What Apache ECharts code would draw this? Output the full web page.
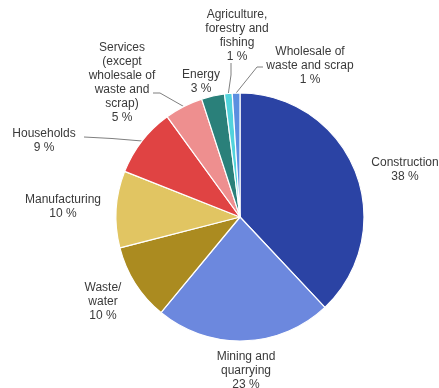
<!DOCTYPE html>
<html>
<head>
<meta charset="utf-8">
<script src="https://cdn.jsdelivr.net/npm/echarts@6/dist/echarts.min.js"></script>
<style>
  html, body { margin: 0; padding: 0; background: #ffffff; }
  #chart { width: 439px; height: 388px; }
</style>
</head>
<body>
<div id="chart"></div>
<script>
// Sectors, clockwise from twelve o'clock
var categories = [
  'Construction',
  'Mining and\nquarrying',
  'Waste/\nwater',
  'Manufacturing',
  'Households',
  'Services\n(except\nwholesale of\nwaste and\nscrap)',
  'Energy',
  'Agriculture,\nforestry and\nfishing',
  'Wholesale of\nwaste and scrap'
];
// Share of total, %
var shares = [38, 23, 10, 10, 9, 5, 3, 1, 1];
var colors = ['#2b43a4', '#6c88de', '#ab8b20', '#e1c562', '#e04343', '#ee8f8f', '#2a807a', '#52d3dc', '#5b8fe0'];

// Label centres and leader lines (null = no leader line)
var labelCentres = [
  [405, 170], [246, 371], [103, 302], [63, 207], [44, 141],
  [122, 83], [201, 82], [237, 36], [310, 66]
];
var leaderEnds = [
  null, null, null, null,
  [[112, 138.5], [84, 137]],
  [[160, 93], [153, 93]],
  null,
  [[231, 75], [231, 63]],
  [[257, 67], [263, 67]]
];

var chart = echarts.init(document.getElementById('chart'), null, { renderer: 'canvas' });

var data = categories.map(function (name, i) {
  return {
    name: name,
    value: shares[i],
    itemStyle: { color: colors[i] },
    labelLine: { show: !!leaderEnds[i] }
  };
});

chart.setOption({
  animation: false,
  series: [{
    type: 'pie',
    center: [240, 217],
    radius: [0, 124],
    startAngle: 90,
    clockwise: true,
    avoidLabelOverlap: false,
    itemStyle: { borderColor: '#ffffff', borderWidth: 1.2 },
    label: {
      show: true,
      position: 'outside',
      formatter: function (p) { return p.name + '\n' + p.value + ' %'; },
      fontFamily: 'Liberation Sans, Arial, sans-serif',
      fontSize: 12,
      lineHeight: 14,
      color: '#3a3a3a',
      align: 'center'
    },
    labelLine: {
      show: true,
      length: 10,
      length2: 10,
      lineStyle: { color: '#7f7f7f', width: 1 }
    },
    labelLayout: function (params) {
      var i = params.dataIndex;
      var c = labelCentres[i];
      var out = {
        x: c[0],
        y: c[1],
        align: 'center',
        verticalAlign: 'middle'
      };
      if (leaderEnds[i] && params.labelLinePoints) {
        out.labelLinePoints = [params.labelLinePoints[0], leaderEnds[i][0], leaderEnds[i][1]];
      }
      return out;
    },
    data: data
  }]
});
</script>
</body>
</html>
